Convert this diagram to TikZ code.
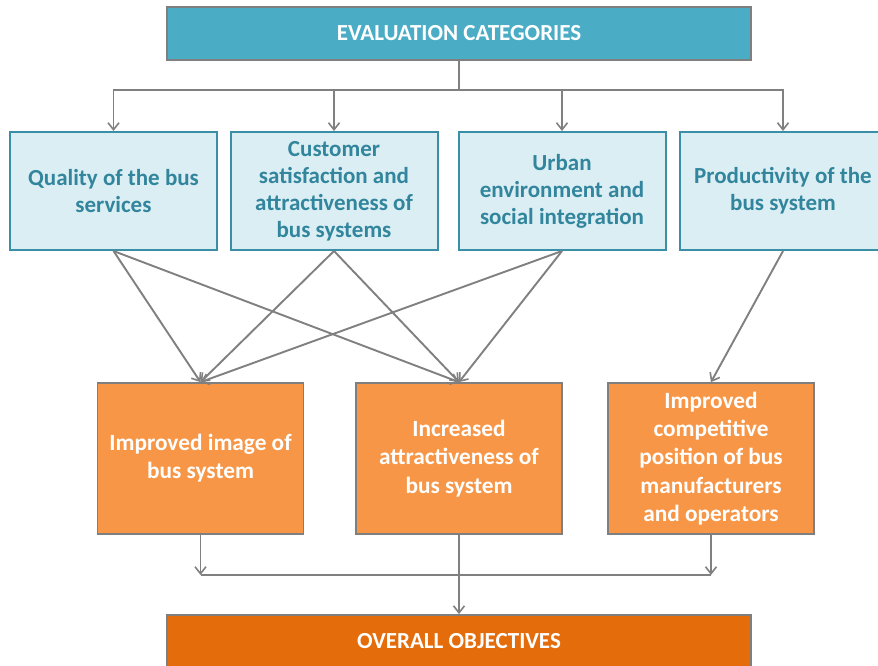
\documentclass[tikz,border=0pt]{standalone}
\usepackage{fontspec}
\setmainfont{Carlito}
\usetikzlibrary{arrows.meta}
\definecolor{topblue}{HTML}{4BACC6}
\definecolor{lightblue}{HTML}{DBEEF4}
\definecolor{tealtext}{HTML}{31859C}
\definecolor{tealborder}{HTML}{3A8FA6}
\definecolor{orangebox}{HTML}{F79646}
\definecolor{darkorange}{HTML}{E46C0A}
\definecolor{boxgray}{HTML}{7F7F7F}
\definecolor{linegray}{HTML}{808080}
\tikzset{
  headbox/.style={draw=boxgray, line width=1.8pt, minimum width=584pt, minimum height=53pt, inner sep=0pt, text=white, font=\bfseries\fontsize{23}{27}\selectfont},
  catbox/.style={draw=tealborder, fill=lightblue, line width=2pt, minimum width=207pt, minimum height=118pt, inner sep=0pt, align=center, text=tealtext, font=\bfseries\fontsize{23}{27}\selectfont},
  goalbox/.style={draw=boxgray, fill=orangebox, line width=1.8pt, minimum width=206pt, minimum height=151pt, inner sep=0pt, align=center, text=white, font=\bfseries\fontsize{23.3}{28.3}\selectfont},
  link/.style={draw=linegray, line width=1.9pt},
  arr/.style={link, -{Straight Barb[length=7pt, width=11pt, line width=1.6pt]}}
}
\begin{document}
\begin{tikzpicture}[x=1pt, y=-1pt]
\useasboundingbox (0,0) rectangle (878,666);
\fill[white] (0,0) rectangle (878,666);
\node[headbox, fill=topblue] (top) at (459,33.5) {EVALUATION CATEGORIES};
\node[catbox] (q1) at (113.5,191) {Quality of the bus\\services};
\node[catbox] (q2) at (334,191) {Customer\\satisfaction and\\attractiveness of\\bus systems};
\node[catbox] (q3) at (562,191) {Urban\\environment and\\social integration};
\node[catbox] (q4) at (783,191) {Productivity of the\\bus system};
\node[goalbox] (gA) at (200.5,458.5) {Improved image of\\bus system};
\node[goalbox] (gB) at (459,458.5) {Increased\\attractiveness of\\bus system};
\node[goalbox] (gC) at (711,458.5) {Improved\\competitive\\position of bus\\manufacturers\\and operators};
\node[headbox, fill=darkorange] (bot) at (459,641.5) {OVERALL OBJECTIVES};
\coordinate (hub) at (459,90);
\coordinate (bus) at (459,575);
\draw[link] (top) -- (hub);
\draw[arr] (hub) -| (q1.north);
\draw[arr] (hub) -| (q2.north);
\draw[arr] (hub) -| (q3.north);
\draw[arr] (hub) -| (q4.north);
\draw[arr] (q1.south) -- (gA.north);
\draw[arr] (q1.south) -- (gB.north);
\draw[arr] (q2.south) -- (gA.north);
\draw[arr] (q2.south) -- (gB.north);
\draw[arr] (q3.south) -- (gA.north);
\draw[arr] (q3.south) -- (gB.north);
\draw[arr] (q4.south) -- (gC.north);
\draw[arr] (gA.south) -- (gA.south |- bus);
\draw[arr] (gC.south) -- (gC.south |- bus);
\draw[link] (gA.south |- bus) -- (gC.south |- bus);
\draw[arr] (gB.south) -- (bot.north);
\end{tikzpicture}
\end{document}
